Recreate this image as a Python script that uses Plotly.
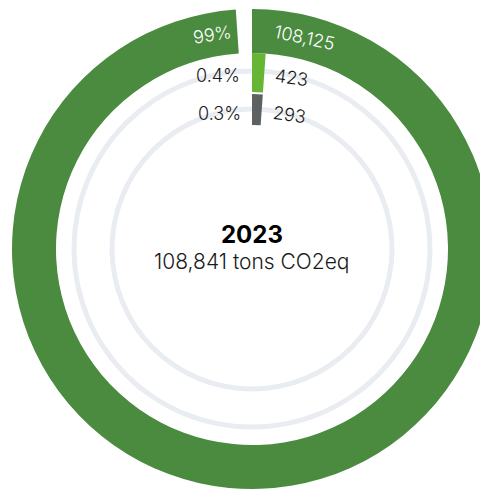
import plotly.graph_objects as go
import math

# ---- data ----
year = "2023"
total_label = "108,841 tons CO2eq"
categories = ["Scope A", "Scope B", "Scope C"]
values = [108125, 423, 293]
percent_labels = ["99%", "0.4%", "0.3%"]
value_labels = ["108,125", "423", "293"]
colors = ["#4a8b3f", "#66b535", "#5d6164"]

# ---- styling / geometry ----
W, H = 488, 482
scale_max = 109300          # angular axis maximum (value units for 360 deg)
min_bar_deg = 4.0           # minimum visible angular width
ring_inner = [196, 157, 124]
ring_outer = [240, 196, 155]
track_r = [178, 140]
track_w = 5
track_color = "#e9edf2"
r_max = 241

fig = go.Figure()

# background tracks
for tr in track_r:
    fig.add_trace(go.Barpolar(
        r=[track_w], base=[tr - track_w / 2], theta=[180], width=[360],
        marker=dict(color=track_color, line=dict(width=0)),
        hoverinfo="skip", showlegend=False))

# bars
for i, v in enumerate(values):
    ext = max(v / scale_max * 360.0, min_bar_deg)
    fig.add_trace(go.Barpolar(
        r=[ring_outer[i] - ring_inner[i]], base=[ring_inner[i]],
        theta=[ext / 2], width=[ext],
        marker=dict(color=colors[i], line=dict(width=0)),
        name=categories[i], showlegend=False))

dom = [0, 1]
fig.update_layout(
    width=W, height=H,
    margin=dict(l=0, r=0, t=0, b=0),
    paper_bgcolor="white",
    plot_bgcolor="white",
    showlegend=False,
    polar=dict(
        domain=dict(x=dom, y=dom),
        bgcolor="rgba(0,0,0,0)",
        hole=0,
        radialaxis=dict(range=[0, r_max], visible=False, showgrid=False),
        angularaxis=dict(direction="clockwise", rotation=90, visible=False,
                         showgrid=False, thetaunit="degrees"),
        barmode="overlay",
    ),
)

# polar -> paper mapping (square polar area centered in the plot area)
side = min(W, H)
cx, cy = W / 2, H / 2
def to_paper(r, theta_deg):
    rp = r / r_max * side / 2
    t = math.radians(theta_deg)
    px = cx + rp * math.sin(t)
    py = cy - rp * math.cos(t)
    return px / W, 1 - py / H

font_family = "Inter"
lab_font = dict(size=18, family=font_family, weight=300)
annotations = []
# outer ring labels
mid_outer = (ring_inner[0] + ring_outer[0]) / 2
x, y = to_paper(mid_outer, 14)
annotations.append(dict(x=x, y=y, text=value_labels[0], textangle=12,
                        font=dict(lab_font, color="white")))
x, y = to_paper(mid_outer, -10.5)
annotations.append(dict(x=x, y=y, text=percent_labels[0], textangle=-9,
                        font=dict(lab_font, color="white")))
# inner rings
label_deg = {1: (13, -11), 2: (15.5, -13.5)}
for i in (1, 2):
    mid = (ring_inner[i] + ring_outer[i]) / 2
    a_val, a_pct = label_deg[i]
    x, y = to_paper(mid, a_val)
    annotations.append(dict(x=x, y=y, text=value_labels[i], textangle=8,
                            font=dict(lab_font, color="#1a1a1a")))
    x, y = to_paper(mid, a_pct)
    annotations.append(dict(x=x, y=y, text=percent_labels[i], textangle=0,
                            font=dict(lab_font, color="#1a1a1a")))
# center
annotations.append(dict(x=0.5, y=0.5, yshift=15, text="<b>" + year + "</b>",
                        font=dict(color="#000000", size=24, family=font_family)))
annotations.append(dict(x=0.5, y=0.5, yshift=-12, text=total_label,
                        font=dict(color="#1a1a1a", size=21, family=font_family, weight=300)))
for a in annotations:
    a.update(xref="paper", yref="paper", showarrow=False,
             xanchor="center", yanchor="middle")
fig.update_layout(annotations=annotations)

fig.write_html("out.html")
